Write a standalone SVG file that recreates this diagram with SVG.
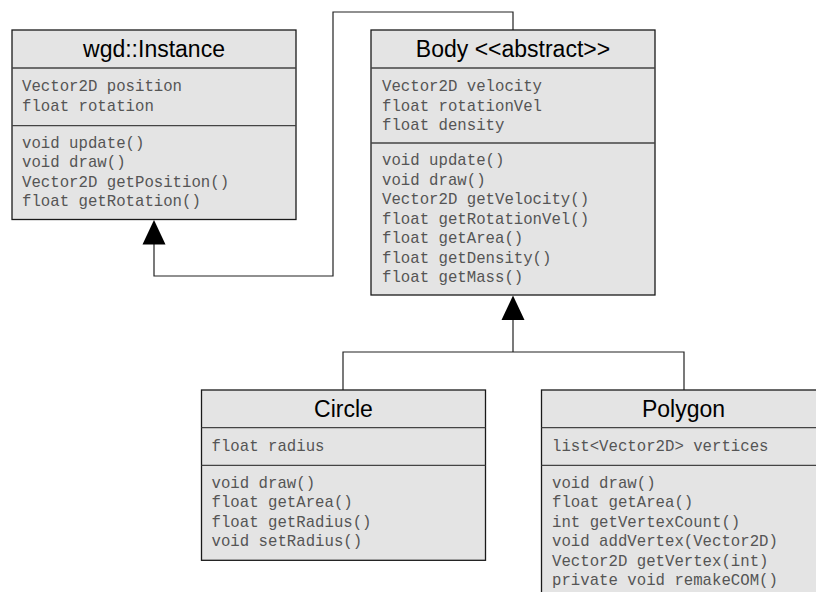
<svg xmlns="http://www.w3.org/2000/svg" width="816" height="592" viewBox="0 0 816 592">
<defs>
<style>
.box{fill:#e4e4e4;stroke:#1a1a1a;stroke-width:1.3}
.div{stroke:#444;stroke-width:1.3}
.title{font-family:"Liberation Sans",Arial,sans-serif;font-size:23px;fill:#000;text-anchor:middle}
.m{font-family:"Liberation Mono","Courier New",monospace;font-size:15.7px;fill:#555}
.conn{fill:none;stroke:#222;stroke-width:1.2}
.head{fill:#000}
</style>
</defs>
<rect width="816" height="592" fill="#fff"/>
<g id="connectors">
<path class="conn" d="M154,244 V276 H333 V12 H513 V30"/>
<polygon class="head" points="154,220 142.5,244.5 165.5,244.5"/>
<path class="conn" d="M513,320 V352 M343,390 V352 H684 V390"/>
<polygon class="head" points="513,295.5 501.5,320 524.5,320"/>
</g>
<g id="instance">
<rect class="box" x="12" y="30" width="284" height="189.5"/>
<line class="div" x1="12" y1="68" x2="296" y2="68"/>
<line class="div" x1="12" y1="125.7" x2="296" y2="125.7"/>
<text class="title" x="154" y="57">wgd::Instance</text>
<text class="m" x="22" y="91">Vector2D position</text>
<text class="m" x="22" y="110.5">float rotation</text>
<text class="m" x="22" y="147.7">void update()</text>
<text class="m" x="22" y="167.2">void draw()</text>
<text class="m" x="22" y="186.7">Vector2D getPosition()</text>
<text class="m" x="22" y="206.2">float getRotation()</text>
</g>
<g id="body">
<rect class="box" x="371" y="30" width="284" height="265"/>
<line class="div" x1="371" y1="68" x2="655" y2="68"/>
<line class="div" x1="371" y1="143" x2="655" y2="143"/>
<text class="title" x="513" y="57">Body &lt;&lt;abstract&gt;&gt;</text>
<text class="m" x="382" y="91">Vector2D velocity</text>
<text class="m" x="382" y="110.5">float rotationVel</text>
<text class="m" x="382" y="130">float density</text>
<text class="m" x="382" y="165">void update()</text>
<text class="m" x="382" y="184.5">void draw()</text>
<text class="m" x="382" y="204">Vector2D getVelocity()</text>
<text class="m" x="382" y="223.5">float getRotationVel()</text>
<text class="m" x="382" y="243">float getArea()</text>
<text class="m" x="382" y="262.5">float getDensity()</text>
<text class="m" x="382" y="282">float getMass()</text>
</g>
<g id="circle">
<rect class="box" x="201.5" y="390" width="284" height="170.3"/>
<line class="div" x1="201.5" y1="427.7" x2="485.5" y2="427.7"/>
<line class="div" x1="201.5" y1="465.3" x2="485.5" y2="465.3"/>
<text class="title" x="343.5" y="417">Circle</text>
<text class="m" x="211.5" y="450.7">float radius</text>
<text class="m" x="211.5" y="487.7">void draw()</text>
<text class="m" x="211.5" y="507.2">float getArea()</text>
<text class="m" x="211.5" y="526.7">float getRadius()</text>
<text class="m" x="211.5" y="546.2">void setRadius()</text>
</g>
<g id="polygon">
<rect class="box" x="541.5" y="390" width="284" height="215"/>
<line class="div" x1="541.5" y1="427.7" x2="825.5" y2="427.7"/>
<line class="div" x1="541.5" y1="465.3" x2="825.5" y2="465.3"/>
<text class="title" x="683.5" y="417">Polygon</text>
<text class="m" x="552" y="450.7">list&lt;Vector2D&gt; vertices</text>
<text class="m" x="552" y="487.7">void draw()</text>
<text class="m" x="552" y="507.2">float getArea()</text>
<text class="m" x="552" y="526.7">int getVertexCount()</text>
<text class="m" x="552" y="546.2">void addVertex(Vector2D)</text>
<text class="m" x="552" y="565.7">Vector2D getVertex(int)</text>
<text class="m" x="552" y="585.2">private void remakeCOM()</text>
</g>
</svg>
